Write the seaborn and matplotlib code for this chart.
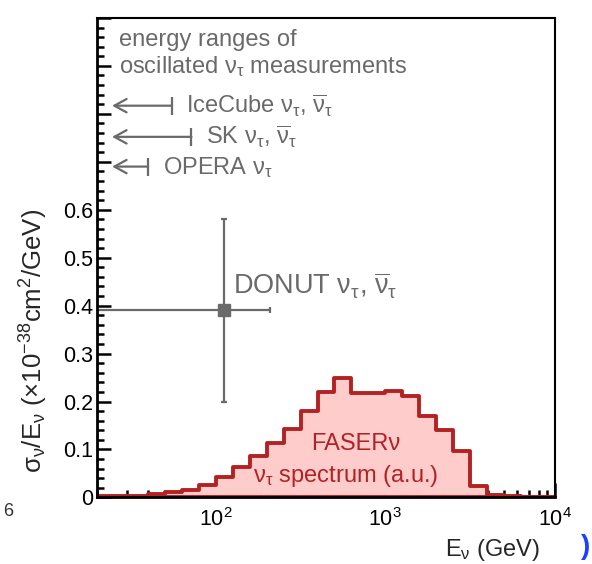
import numpy as np
import pandas as pd
import matplotlib
matplotlib.use('Agg')
import matplotlib.pyplot as plt
import seaborn as sns
from matplotlib.ticker import MultipleLocator, LogLocator, FuncFormatter, NullFormatter

# FASERnu nu_tau spectrum (arbitrary units), bins in log10(E/GeV)
log_edges = [1.3, 1.4, 1.5, 1.6, 1.7, 1.8, 1.9, 2.0, 2.1, 2.2, 2.3, 2.4, 2.5, 2.6,
             2.7, 2.8, 2.9, 3.0, 3.1, 3.2, 3.3, 3.4, 3.5, 3.6, 3.7, 3.8, 3.9, 4.0]
spectrum = [0.002, 0.002, 0.004, 0.007, 0.011, 0.015, 0.025, 0.043, 0.063, 0.086,
            0.113, 0.143, 0.180, 0.220, 0.249, 0.217, 0.218, 0.221, 0.211, 0.170,
            0.140, 0.096, 0.023, 0.006, 0.002, 0.001, 0.001]

# DONUT measurement
donut_e = 112.0
donut_e_range = [10.0, 210.0]
donut_sigma = 0.39
donut_sigma_range = [0.20, 0.58]

# upper ends of oscillated nu_tau energy ranges (GeV)
osc_labels = [r'IceCube ν$_τ$, $\overline{ν}_τ$', r'SK ν$_τ$, $\overline{ν}_τ$', r'OPERA ν$_τ$']
osc_emax = [55.0, 72.0, 40.0]

grey = '#6a6a6a'
red = '#b22222'

sns.set_theme(style='ticks')
plt.rcParams['font.family'] = ['Liberation Sans', 'DejaVu Sans']
plt.rcParams['mathtext.fontset'] = 'custom'
plt.rcParams['mathtext.rm'] = 'Liberation Sans'
plt.rcParams['mathtext.it'] = 'Liberation Sans'
plt.rcParams['mathtext.default'] = 'regular'

fig = plt.figure(figsize=(5.92, 5.64), dpi=100)
ax = fig.add_axes([0.164, 0.118, 0.7736, 0.8502])

centers = [(a + b) / 2 for a, b in zip(log_edges[:-1], log_edges[1:])]
df = pd.DataFrame({'E': np.power(10, centers), 'w': spectrum})
sns.histplot(data=df, x='E', weights='w', bins=log_edges, log_scale=True,
             element='step', fill=True, facecolor='#ffcccc', edgecolor=red,
             linewidth=2.8, alpha=1, ax=ax)

# DONUT point
ax.errorbar([donut_e], [donut_sigma],
            xerr=[[donut_e - donut_e_range[0]], [donut_e_range[1] - donut_e]],
            yerr=[[donut_sigma - donut_sigma_range[0]], [donut_sigma_range[1] - donut_sigma]],
            fmt='s', color=grey, ms=9, elinewidth=1.6, capsize=2.5, capthick=1.6)
ax.text(126, 0.424, r'DONUT ν$_τ$, $\overline{ν}_τ$', fontsize=19.5, color=grey)

# oscillation ranges
arrow_y = [0.817, 0.752, 0.690]
for label, emax, y in zip(osc_labels, osc_emax, arrow_y):
    ax.annotate('', xy=(24.5, y), xytext=(emax, y),
                arrowprops=dict(arrowstyle='->, head_length=0.55, head_width=0.3',
                                color=grey, lw=1.6, shrinkA=0, shrinkB=0,
                                mutation_scale=16))
    ax.plot([emax], [y], marker='|', ms=13, mew=1.6, color=grey)
    ax.annotate(label, xy=(emax, y), xytext=(10.5, -5.5), textcoords='offset points',
                fontsize=17, color=grey, va='baseline')

ax.text(0.048, 0.942, 'energy ranges of', transform=ax.transAxes, fontsize=17, color=grey)
ax.text(0.048, 0.885, r'oscillated ν$_τ$ measurements', transform=ax.transAxes,
        fontsize=17, color=grey)

ax.text(667, 0.099, 'FASERν', ha='center', fontsize=17, color=red)
ax.text(586, 0.033, r'ν$_τ$ spectrum (a.u.)', ha='center', fontsize=17, color=red)

# axes
ax.set_xlim(20, 1e4)
ax.set_ylim(0, 1.0)
ax.xaxis.set_major_locator(LogLocator(base=10))
ax.xaxis.set_minor_locator(LogLocator(base=10, subs=np.arange(2, 10)))
ax.xaxis.set_minor_formatter(NullFormatter())
ax.yaxis.set_major_locator(MultipleLocator(0.1))
ax.yaxis.set_minor_locator(MultipleLocator(0.02))
ax.yaxis.set_major_formatter(FuncFormatter(
    lambda v, p: '' if v > 0.65 else ('0' if abs(v) < 1e-9 else f'{v:.1f}')))

ax.tick_params(which='both', direction='in', top=False, right=False, width=1.8,
               colors='black', labelsize=15.5)
ax.tick_params(which='major', length=10)
ax.tick_params(which='minor', length=5)
ax.tick_params(axis='y', pad=3)
ax.tick_params(axis='x', pad=8)
for side in ['left', 'bottom']:
    ax.spines[side].set_linewidth(2.0)
for side in ['top', 'right']:
    ax.spines[side].set_linewidth(1.5)
for s in ax.spines.values():
    s.set_color('black')

ax.set_ylabel(r'σ$_ν$/E$_ν$ (×10$^{-38}$cm$^2$/GeV)', fontsize=18.5)
ax.yaxis.set_label_coords(-0.103, 0.326)
ax.set_xlabel(r'E$_ν$ (GeV)', fontsize=17, loc='right')
ax.xaxis.set_label_coords(0.967, -0.082)

# fragments of neighbouring panels visible at the edges
fig.text(0.005, 1 - 512 / 564, '6', fontsize=13, color='#333333', va='center')
fig.text(586 / 592, 1 - 547 / 564, ')', fontsize=20, color='#1f3fff', va='center',
         ha='center', fontweight='bold')

fig.savefig('out.png', dpi=100)
